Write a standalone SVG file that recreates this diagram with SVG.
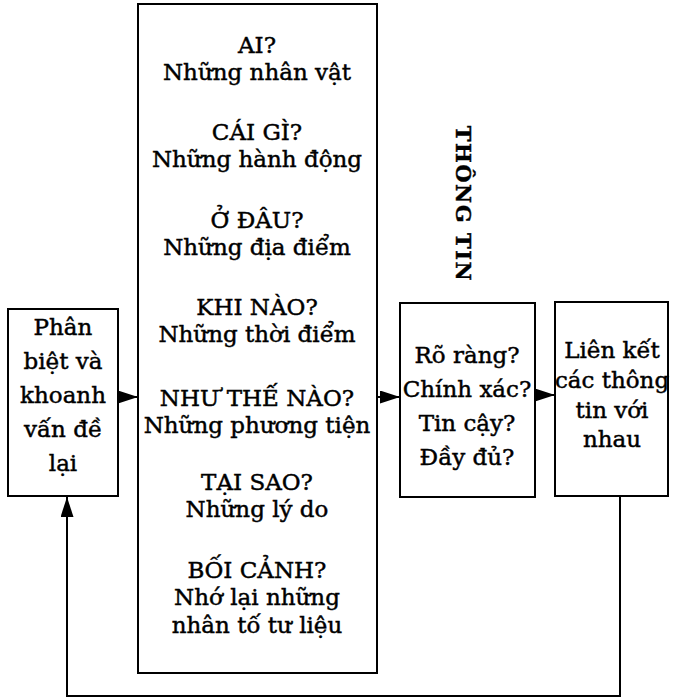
<svg xmlns="http://www.w3.org/2000/svg" width="675" height="700" viewBox="0 0 675 700">
<style>
.box{fill:#fff;stroke:#000;stroke-width:2}
.t{font-family:"DejaVu Serif","Liberation Serif",serif;font-size:23px;fill:#000;stroke:#000;stroke-width:0.45;text-anchor:middle}
.c{fill:none;stroke:#000;stroke-width:2}
</style>
<defs>
<marker id="ah" markerUnits="userSpaceOnUse" markerWidth="20" markerHeight="13" viewBox="0 0 20 13" refX="20" refY="6.5" orient="auto">
<path d="M0,0 L20,6.5 L0,13 z" fill="#000"/>
</marker>
</defs>
<rect width="675" height="700" fill="#fff"/>
<g id="connectors">
<path class="c" d="M118,397 H138" marker-end="url(#ah)"/>
<path class="c" d="M377,397 H400" marker-end="url(#ah)"/>
<path class="c" d="M535,395 H555" marker-end="url(#ah)"/>
<path class="c" d="M620,496 V696 H67 V497" marker-end="url(#ah)"/>
</g>
<g id="node-identify">
<rect class="box" x="8" y="309" width="110" height="187"/>
<text class="t" x="63" y="335">Phân</text>
<text class="t" x="63" y="369">biệt và</text>
<text class="t" x="63" y="403">khoanh</text>
<text class="t" x="63" y="437">vấn đề</text>
<text class="t" x="63" y="471">lại</text>
</g>
<g id="node-questions">
<rect class="box" x="138" y="4" width="239" height="669" stroke-width="2.5"/>
<text class="t" x="257" y="53">AI?</text>
<text class="t" x="257" y="80">Những nhân vật</text>
<text class="t" x="257" y="140">CÁI GÌ?</text>
<text class="t" x="257" y="167">Những hành động</text>
<text class="t" x="257" y="228">Ở ĐÂU?</text>
<text class="t" x="257" y="255">Những địa điểm</text>
<text class="t" x="257" y="315">KHI NÀO?</text>
<text class="t" x="257" y="342">Những thời điểm</text>
<text class="t" x="257" y="406">NHƯ THẾ NÀO?</text>
<text class="t" x="257" y="433">Những phương tiện</text>
<text class="t" x="257" y="490">TẠI SAO?</text>
<text class="t" x="257" y="517">Những lý do</text>
<text class="t" x="257" y="578">BỐI CẢNH?</text>
<text class="t" x="257" y="605">Nhớ lại những</text>
<text class="t" x="257" y="633">nhân tố tư liệu</text>
</g>
<g id="label-thongtin">
<text class="t" transform="translate(456,204) rotate(90)" x="0" y="0" style="font-size:21px;font-weight:bold;letter-spacing:1.5px">THÔNG TIN</text>
</g>
<g id="node-check">
<rect class="box" x="400" y="303" width="135" height="194"/>
<text class="t" x="467" y="363">Rõ ràng?</text>
<text class="t" x="467" y="397">Chính xác?</text>
<text class="t" x="467" y="431">Tin cậy?</text>
<text class="t" x="467" y="465">Đầy đủ?</text>
</g>
<g id="node-link">
<rect class="box" x="555" y="302" width="113" height="194"/>
<text class="t" x="612" y="358">Liên kết</text>
<text class="t" x="612" y="388">các thông</text>
<text class="t" x="612" y="418">tin với</text>
<text class="t" x="612" y="447">nhau</text>
</g>
</svg>
